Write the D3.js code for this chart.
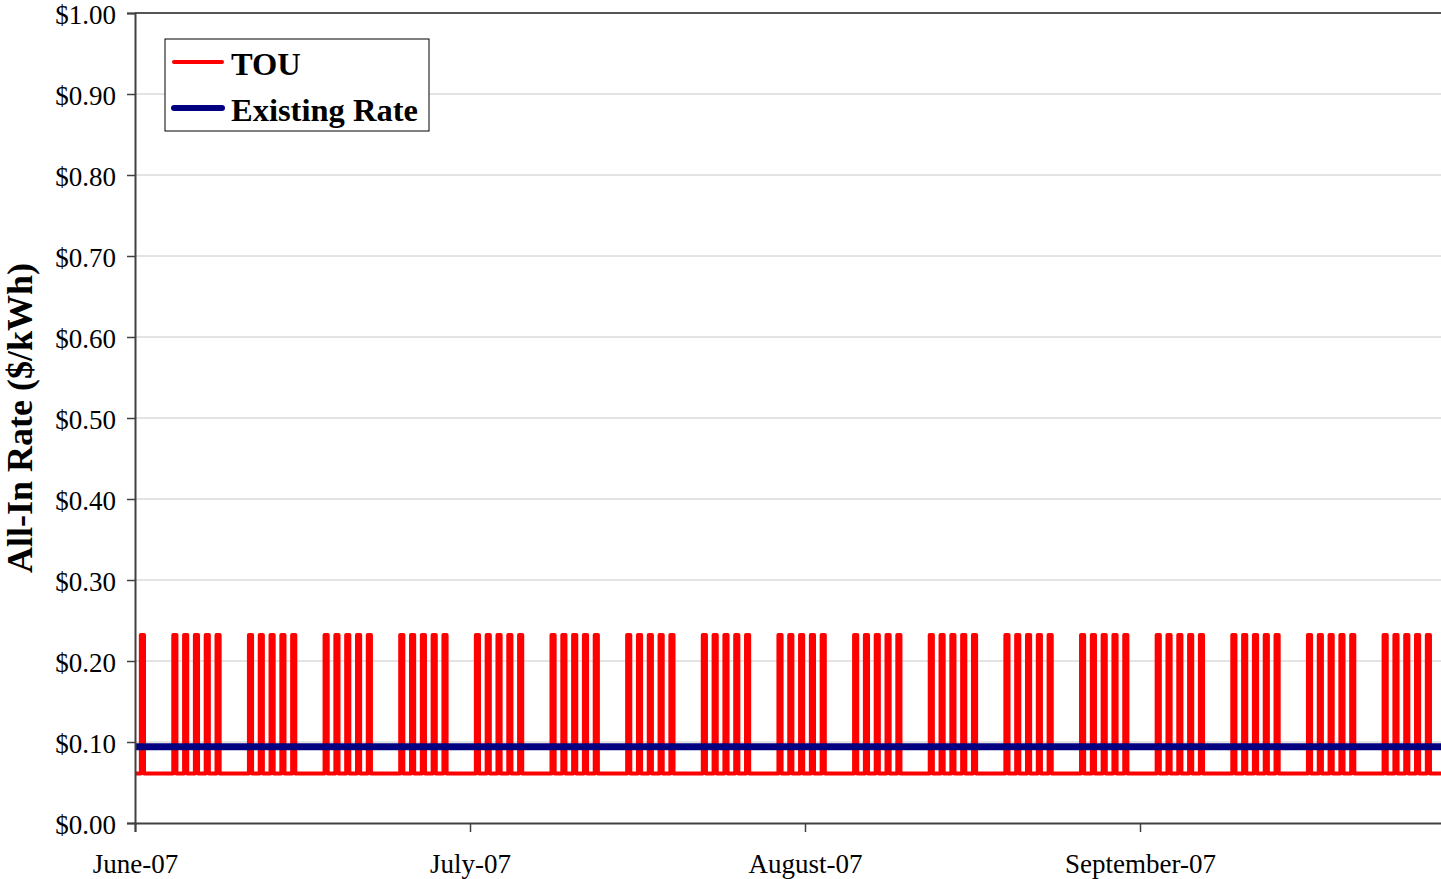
<!DOCTYPE html>
<html>
<head>
<meta charset="utf-8">
<script src="https://cdn.jsdelivr.net/npm/d3@7"></script>
<style>
  body { margin: 0; background: #fff; }
  svg { display: block; font-family: "Liberation Serif", "Times New Roman", serif; }
</style>
</head>
<body>
<div id="chart"></div>
<script>
// chart data
let rateTicks = [0, 0.1, 0.2, 0.3, 0.4, 0.5, 0.6, 0.7, 0.8, 0.9, 1.0];
let monthLabels = ['June-07', 'July-07', 'August-07', 'September-07'];
let monthTickHours = [0, 744, 1488, 2232];
let totalHours = 2928; // Jun 1 - Sep 30 2007, hourly

// on-peak days (day index from Fri Jun 1), weekdays only
let peakDays = [
  0,
  3, 4, 5, 6, 7,
  10, 11, 12, 13, 14,
  17, 18, 19, 20, 21,
  24, 25, 26, 27, 28,
  31, 32, 33, 34, 35,
  38, 39, 40, 41, 42,
  45, 46, 47, 48, 49,
  52, 53, 54, 55, 56,
  59, 60, 61, 62, 63,
  66, 67, 68, 69, 70,
  73, 74, 75, 76, 77,
  80, 81, 82, 83, 84,
  87, 88, 89, 90, 91,
  94, 95, 96, 97, 98,
  101, 102, 103, 104, 105,
  108, 109, 110, 111, 112,
  115, 116, 117, 118, 119
];
let peakHours = [13, 20];       // start / end hour of on-peak window
let touRates = [0.061, 0.232];  // off-peak, on-peak
let existingRate = 0.094;

let seriesNames = ['TOU', 'Existing Rate'];
let seriesColors = ['#ff0000', '#000080'];

// svg setup
let svgWidth = 1441;
let svgHeight = 879;

let margin = { top: 13, left: 135, bottom: 56 };
let height = svgHeight - margin.top - margin.bottom;
let pxPerHour = 335 / 744;
let width = totalHours * pxPerHour;

let svg = d3.select('#chart').append('svg')
  .attr('width', svgWidth)
  .attr('height', svgHeight);

let chartGroup = svg.append('g')
  .attr('transform', `translate(${margin.left}, ${margin.top})`);

// scales
let xScale = d3.scaleLinear()
  .domain([0, totalHours])
  .range([0, width]);

let yScale = d3.scaleLinear()
  .domain([0, 1])
  .range([height, 0]);

// gridlines
chartGroup.append('g')
  .selectAll('line')
  .data(rateTicks.slice(1, -1))
  .enter()
  .append('line')
  .attr('x1', 0)
  .attr('x2', width)
  .attr('y1', d => yScale(d))
  .attr('y2', d => yScale(d))
  .attr('stroke', '#c8c8c8')
  .attr('stroke-width', 1);

// top border
chartGroup.append('line')
  .attr('x1', 0)
  .attr('x2', width)
  .attr('y1', 0)
  .attr('y2', 0)
  .attr('stroke', '#555')
  .attr('stroke-width', 2);

// TOU step series built from peak days
let touPoints = [[0, touRates[0]]];
peakDays.forEach(function (d) {
  let h0 = d * 24 + peakHours[0];
  let h1 = d * 24 + peakHours[1];
  touPoints.push([h0, touRates[0]], [h0, touRates[1]], [h1, touRates[1]], [h1, touRates[0]]);
});
touPoints.push([totalHours, touRates[0]]);

let line = d3.line()
  .x(d => xScale(d[0]))
  .y(d => yScale(d[1]));

chartGroup.append('path')
  .datum(touPoints)
  .attr('fill', 'none')
  .attr('stroke', seriesColors[0])
  .attr('stroke-width', 4)
  .attr('stroke-linejoin', 'round')
  .attr('d', line);

chartGroup.append('path')
  .datum([[0, existingRate], [totalHours, existingRate]])
  .attr('fill', 'none')
  .attr('stroke', seriesColors[1])
  .attr('stroke-width', 7)
  .attr('d', line);

// y axis
let leftAxis = d3.axisLeft(yScale)
  .tickValues(rateTicks)
  .tickSize(8)
  .tickPadding(11)
  .tickFormat(d3.format('$.2f'));

let yAxis = chartGroup.append('g')
  .call(leftAxis);

// x axis
let bottomAxis = d3.axisBottom(xScale)
  .tickValues(monthTickHours)
  .tickSize(9)
  .tickPadding(22)
  .tickFormat((d, i) => monthLabels[i]);

let xAxis = chartGroup.append('g')
  .attr('transform', `translate(0, ${height})`)
  .call(bottomAxis);

[xAxis, yAxis].forEach(function (ax) {
  ax.select('.domain').attr('stroke', '#404040').attr('stroke-width', 2);
  ax.selectAll('.tick line').attr('stroke', '#404040').attr('stroke-width', 1.5);
  ax.selectAll('text')
    .attr('font-family', '"Liberation Serif", "Times New Roman", serif')
    .attr('font-size', '27px')
    .attr('fill', '#000');
});
// nudge y labels down a touch so the top one is not clipped
yAxis.selectAll('text').attr('dy', '0.4em');

// y axis title
svg.append('text')
  .attr('transform', 'translate(32, 418) rotate(-90)')
  .attr('text-anchor', 'middle')
  .attr('font-size', '36px')
  .attr('font-weight', 'bold')
  .text('All-In Rate ($/kWh)');

// legend
let legend = svg.append('g')
  .attr('transform', 'translate(165, 39)');

legend.append('rect')
  .attr('width', 264)
  .attr('height', 92)
  .attr('fill', '#fff')
  .attr('stroke', '#000')
  .attr('stroke-width', 1);

let legendRows = legend.selectAll('.legendRow')
  .data(seriesNames)
  .enter()
  .append('g')
  .classed('legendRow', true)
  .attr('transform', (d, i) => `translate(0, ${23 + i * 46})`);

legendRows.append('line')
  .attr('x1', 9)
  .attr('x2', 57)
  .attr('stroke', (d, i) => seriesColors[i])
  .attr('stroke-width', (d, i) => i === 0 ? 4 : 6)
  .attr('stroke-linecap', 'round');

legendRows.append('text')
  .attr('x', 66)
  .attr('y', 13)
  .attr('font-size', '32.5px')
  .attr('font-weight', 'bold')
  .text(d => d);
</script>
</body>
</html>
